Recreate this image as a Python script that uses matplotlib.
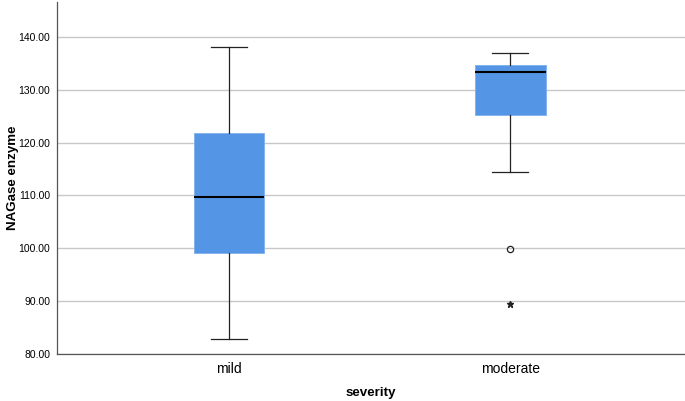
import matplotlib
matplotlib.use("Agg")
import matplotlib.pyplot as plt

plt.rcParams['font.family'] = ['Liberation Sans', 'DejaVu Sans']

# --- data ---
groups = ["mild", "moderate"]
whislo = [82.8, 114.4]
q1 = [99.1, 125.3]
med = [109.8, 133.4]
q3 = [121.8, 134.7]
whishi = [138.1, 137.0]
outliers = [[], [99.8]]        # circle markers
extremes = [[], [89.4]]        # star markers
y_ticks = [80, 90, 100, 110, 120, 130, 140]

box_color = "#5595e5"

fig = plt.figure(figsize=(6.85, 4.01), dpi=100)
ax = fig.add_axes([0.0832, 0.117, 0.9168, 0.878])

stats = []
for i, g in enumerate(groups):
    stats.append(dict(label=g, whislo=whislo[i], q1=q1[i], med=med[i],
                      q3=q3[i], whishi=whishi[i], fliers=outliers[i]))

pos = [1, 2]
ax.bxp(stats, positions=pos, widths=0.25, patch_artist=True,
       showfliers=True, zorder=3,
       boxprops=dict(facecolor=box_color, edgecolor="#7fb0ec", linewidth=0.6),
       medianprops=dict(color="black", linewidth=1.5),
       whiskerprops=dict(color="#222222", linewidth=0.9),
       capprops=dict(color="#222222", linewidth=0.9),
       capwidths=0.128,
       flierprops=dict(marker="o", markersize=4.5, markerfacecolor="none",
                       markeredgecolor="#222222", markeredgewidth=0.9))

for p, ex in zip(pos, extremes):
    if ex:
        ax.plot([p] * len(ex), ex, linestyle="none", marker="*",
                markersize=5, color="#222222", zorder=4)

ax.set_xlim(0.39, 2.62)
ax.set_ylim(80, 146.6)
ax.set_yticks(y_ticks)
ax.set_yticklabels([f"{v:.2f}" for v in y_ticks], fontsize=7.5)
ax.set_xticks(pos)
ax.set_xticklabels(groups, fontsize=10)
ax.tick_params(axis="both", length=0, pad=5)
ax.tick_params(axis="x", pad=6)

ax.yaxis.grid(True, color="#c8c8c8", linewidth=1.0, zorder=0)
ax.set_axisbelow(True)

for s in ["top", "right"]:
    ax.spines[s].set_visible(False)
for s in ["left", "bottom"]:
    ax.spines[s].set_color("#555555")
    ax.spines[s].set_linewidth(0.9)

ax.set_ylabel("NAGase enzyme", fontsize=9.6, fontweight="bold")
ax.set_xlabel("severity", fontsize=9.6, fontweight="bold")
ax.yaxis.set_label_coords(-0.061, 0.5)
ax.xaxis.set_label_coords(0.5, -0.093)

fig.savefig("out.png", dpi=100)
